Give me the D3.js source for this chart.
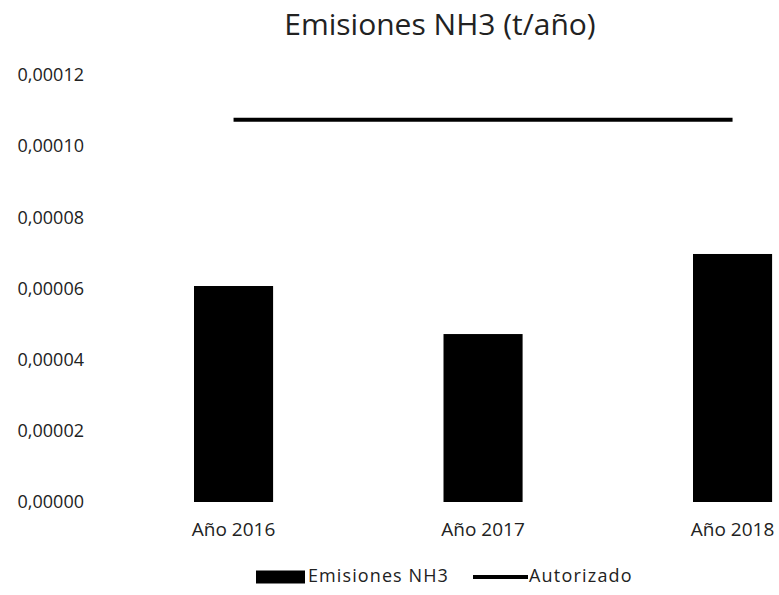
<!DOCTYPE html>
<html>
<head>
<meta charset="utf-8">
<script src="https://cdn.jsdelivr.net/npm/d3@7"></script>
<style>
  body { margin: 0; background: #fff; }
  svg { display: block; }
  text { font-family: "Open Sans", sans-serif; fill: #222; }
</style>
</head>
<body>
<div id="chart"></div>
<script>
// Data
const years = ["Año 2016", "Año 2017", "Año 2018"];
const emisiones = [0.0000607, 0.0000472, 0.0000697];
const autorizado = [0.0001074, 0.0001074, 0.0001074];
const yTicks = [0, 0.00002, 0.00004, 0.00006, 0.00008, 0.0001, 0.00012];
const legendLabels = ["Emisiones NH3", "Autorizado"];

const width = 779, height = 595;

const svg = d3.select("#chart")
    .append("svg")
    .attr("width", width)
    .attr("height", height);

// Scales (plot runs past the right edge, as in the reference)
const x = d3.scaleBand()
    .domain(years)
    .range([108.8, 857.3])
    .paddingInner(0.683)
    .paddingOuter(0.3415);

const y = d3.scaleLinear()
    .domain([0, 0.00012])
    .range([502, 75]);

const fmt = v => d3.format(".5f")(v).replace(".", ",");

// Title
svg.append("text")
    .attr("x", 440)
    .attr("y", 35)
    .attr("text-anchor", "middle")
    .style("font-size", "30px")
    .text("Emisiones NH3 (t/año)");

// Y axis (labels only)
const yAxis = svg.append("g")
    .attr("transform", "translate(84,0)")
    .call(d3.axisLeft(y).tickValues(yTicks).tickFormat(fmt).tickSize(0).tickPadding(0));
yAxis.select(".domain").remove();
yAxis.selectAll("text")
    .style("font-size", "18px")
    .style("font-family", "'Open Sans', sans-serif")
    .attr("fill", "#222");

// X axis (labels only)
const xAxis = svg.append("g")
    .attr("transform", "translate(0,502)")
    .call(d3.axisBottom(x).tickSize(0).tickPadding(21));
xAxis.select(".domain").remove();
xAxis.selectAll("text")
    .style("font-size", "19px")
    .style("font-family", "'Open Sans', sans-serif")
    .attr("fill", "#222");

// Bars
svg.selectAll(".bar")
    .data(emisiones)
    .enter()
    .append("rect")
    .attr("class", "bar")
    .attr("x", (d, i) => x(years[i]))
    .attr("y", d => y(d))
    .attr("width", x.bandwidth())
    .attr("height", d => y(0) - y(d))
    .attr("fill", "#000");

// Autorizado line
const line = d3.line()
    .x((d, i) => x(years[i]) + x.bandwidth() / 2)
    .y(d => y(d));

svg.append("path")
    .datum(autorizado)
    .attr("d", line)
    .attr("fill", "none")
    .attr("stroke", "#000")
    .attr("stroke-width", 4);

// Legend
const legY = 577;
svg.append("rect")
    .attr("x", 256)
    .attr("y", legY - 6.5)
    .attr("width", 49)
    .attr("height", 13)
    .attr("fill", "#000");
svg.append("text")
    .attr("x", 308)
    .attr("y", legY)
    .attr("dominant-baseline", "middle")
    .style("font-size", "18px")
    .style("letter-spacing", "1.1px")
    .text(legendLabels[0]);

svg.append("line")
    .attr("x1", 473)
    .attr("x2", 528)
    .attr("y1", legY)
    .attr("y2", legY)
    .attr("stroke", "#000")
    .attr("stroke-width", 4);
svg.append("text")
    .attr("x", 529)
    .attr("y", legY)
    .attr("dominant-baseline", "middle")
    .style("font-size", "18px")
    .style("letter-spacing", "1.2px")
    .text(legendLabels[1]);
</script>
</body>
</html>
